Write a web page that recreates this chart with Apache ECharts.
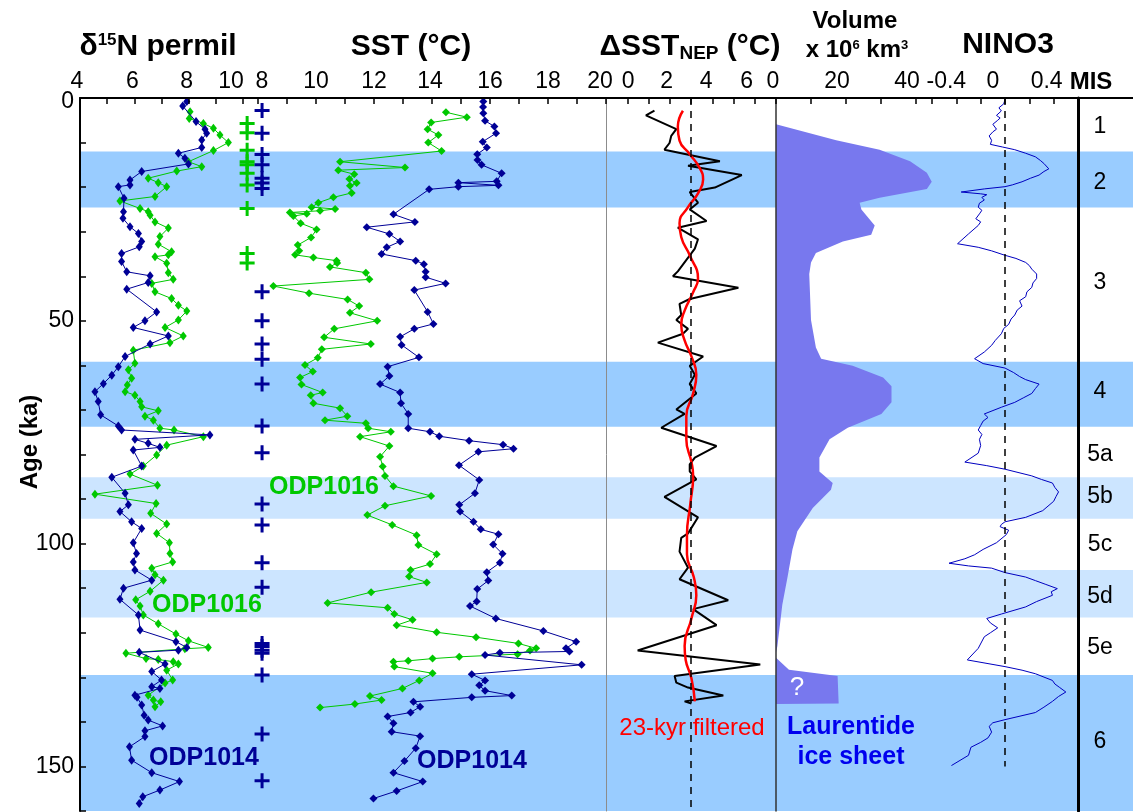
<!DOCTYPE html>
<html><head><meta charset="utf-8">
<script src="https://cdn.jsdelivr.net/npm/echarts@6/dist/echarts.min.js"></script>
<style>html,body{margin:0;padding:0;background:#fff;}#c{width:1133px;height:812px;}</style>
</head><body><div id="c"></div>
<script>
// ---------- DATA: [age (ka), value] ----------
const n15_1014 = [[0.8,7.93],[1.8,7.78],[5.3,8.27],[7.0,8.6],[7.9,8.66],[9.4,8.48],[11.1,8.48],[12.4,7.62],[13.5,7.86],[14.8,7.99],[16.5,6.27],[18.4,5.84],[19.5,5.84],[19.9,5.41],[22.5,5.62],[25.5,5.6],[27.0,5.58],[28.9,5.84],[30.4,6.15],[32.2,6.27],[33.4,6.18],[34.9,5.53],[36.7,5.53],[39.0,5.72],[39.9,6.58],[41.4,6.51],[42.9,5.72],[48.0,6.82],[50.0,6.39],[51.5,5.96],[53.4,7.25],[55.2,6.58],[58.0,5.66],[60.3,5.41],[62.2,5.17],[64.1,4.86],[65.9,4.55],[68.1,4.67],[71.1,4.76],[73.6,5.41],[74.5,5.53],[75.6,8.78],[76.6,6.02],[77.5,6.51],[78.4,6.94],[79.0,5.96],[82.6,6.27],[85.1,5.17],[88.7,5.66],[91.3,5.78],[92.8,5.47],[95.1,5.9],[96.6,6.27],[99.8,5.96],[102.2,6.08],[104.1,5.96],[105.9,6.02],[108.2,6.64],[110.0,5.6],[112.5,5.47],[116.0,6.15],[119.4,6.21],[122.0,7.53],[123.3,7.93],[123.9,7.62],[124.4,6.18],[127.0,7.13],[128.7,6.64],[130.6,7.0],[132.1,6.64],[132.5,6.94],[134.0,6.02],[134.5,6.1],[136.2,6.27],[138.5,6.36],[139.6,6.51],[140.9,7.04],[142.0,6.39],[143.3,6.39],[145.6,5.82],[148.6,5.9],[151.4,6.64],[153.4,7.66],[155.3,6.94],[156.8,6.31],[158.3,6.18]];
const n15_1016 = [[3.1,8.05],[4.6,8.02],[5.7,8.54],[6.8,8.91],[8.3,9.15],[10.0,9.46],[11.8,8.91],[14.3,7.99],[15.4,8.48],[16.4,7.56],[18.0,6.51],[19.0,6.88],[19.9,7.19],[22.1,6.76],[23.1,5.47],[24.8,6.21],[25.5,6.51],[26.3,6.58],[27.8,6.76],[29.2,7.25],[31.1,6.94],[32.8,6.88],[34.5,7.37],[35.2,7.25],[35.6,6.76],[37.1,7.19],[39.2,7.25],[40.7,7.43],[41.6,6.64],[43.5,6.76],[45.0,7.37],[46.5,7.62],[47.8,7.93],[49.8,7.62],[51.5,7.13],[53.4,7.8],[54.9,7.31],[56.6,5.96],[59.5,6.02],[61.0,5.78],[62.9,5.9],[64.4,5.74],[65.9,5.66],[66.7,6.02],[68.1,6.21],[69.3,6.27],[70.2,6.88],[71.4,6.39],[72.3,6.7],[74.1,6.94],[74.5,7.46],[76.0,8.54],[77.9,7.19],[80.1,6.82],[82.6,6.33],[84.4,5.84],[86.9,6.85],[88.9,4.55],[91.0,6.8],[93.2,6.6],[95.6,7.19],[97.7,6.82],[99.8,7.29],[102.2,7.31],[104.1,7.41],[105.5,6.64],[107.0,6.76],[108.2,7.07],[110.7,6.58],[112.6,6.05],[114.0,6.21],[116.0,6.33],[118.0,6.88],[120.3,7.53],[121.8,7.99],[123.3,8.72],[123.6,7.86],[124.6,5.69],[125.8,6.43],[126.0,6.88],[126.5,7.43],[127.0,7.62],[128.4,7.19],[130.6,7.41],[131.3,7.13],[134.0,6.51],[135.1,6.7],[135.5,6.97],[136.6,6.76]];
const sst_1014 = [[0.8,15.77],[2.0,15.76],[3.4,15.77],[5.1,15.83],[6.4,16.15],[7.9,16.21],[9.8,15.75],[11.1,15.89],[12.6,15.56],[13.9,15.57],[15.0,15.71],[16.9,16.4],[18.7,16.23],[19.0,14.91],[19.6,16.29],[19.9,14.91],[20.5,13.9],[26.1,12.67],[27.8,13.41],[29.0,11.75],[30.5,12.53],[32.2,12.9],[33.5,12.44],[35.0,12.26],[36.5,13.44],[37.3,13.72],[39.0,13.78],[40.2,13.78],[41.6,14.47],[43.1,13.39],[48.0,13.85],[50.7,14.05],[51.8,13.39],[53.6,12.9],[55.4,12.95],[58.2,13.55],[60.3,12.47],[62.4,12.53],[64.2,12.21],[66.1,12.9],[68.5,12.93],[70.9,13.18],[74.1,13.18],[74.9,13.93],[75.9,14.25],[76.9,15.28],[77.8,16.45],[78.7,16.81],[79.4,15.6],[82.4,14.93],[85.7,15.63],[88.7,15.48],[91.3,14.94],[92.8,14.97],[95.1,15.43],[96.8,15.68],[97.9,16.29],[100.2,16.11],[102.3,16.43],[104.3,16.34],[106.4,15.89],[108.3,15.94],[110.2,15.56],[113.0,15.54],[114.0,15.31],[116.8,16.2],[119.6,17.84],[122.0,18.97],[123.5,18.62],[124.2,18.74],[124.5,16.34],[125.0,15.83],[127.2,19.16],[129.3,15.37],[130.7,15.83],[131.8,15.63],[133.0,15.83],[134.1,16.75],[134.5,15.37],[135.5,13.36],[136.6,13.59],[137.9,13.26],[138.8,12.47],[140.3,12.67],[142.2,12.61],[143.2,13.59],[145.9,13.44],[148.8,13.05],[151.4,12.67],[153.4,13.68],[155.5,12.78],[157.2,11.98]];
const sst_1016 = [[3.2,14.48],[4.3,15.2],[5.5,13.97],[7.0,13.85],[8.3,14.22],[10.0,13.87],[11.9,14.33],[14.3,10.83],[15.6,13.07],[16.2,10.77],[17.1,11.32],[18.2,11.15],[19.1,11.4],[19.7,11.17],[21.3,11.23],[22.3,10.6],[23.5,10.08],[24.5,9.85],[24.9,10.66],[25.3,10.14],[25.7,9.1],[26.0,9.68],[26.5,9.22],[28.1,9.47],[29.5,10.02],[31.3,9.83],[33.0,9.37],[34.3,9.42],[35.2,9.28],[35.8,9.91],[36.5,10.71],[37.0,10.73],[37.9,10.48],[39.2,11.72],[40.7,11.84],[42.2,8.53],[43.8,9.76],[45.2,11.09],[46.7,11.49],[48.2,11.17],[50.0,12.11],[51.8,10.63],[53.7,10.28],[55.2,11.89],[56.4,10.2],[58.3,10.06],[59.9,9.62],[61.4,9.89],[62.7,9.45],[64.3,9.5],[66.1,10.23],[66.7,9.82],[68.5,9.91],[69.6,10.83],[71.4,11.08],[72.3,10.31],[73.0,11.72],[74.1,11.8],[74.9,12.58],[76.0,11.52],[78.1,12.53],[80.5,12.21],[82.7,12.3],[84.8,12.38],[87.1,12.67],[89.3,13.97],[91.5,12.38],[93.6,11.77],[95.8,12.63],[98.1,13.47],[100.3,13.53],[102.4,14.16],[104.6,13.93],[105.9,13.26],[107.4,13.21],[108.7,13.82],[110.9,11.9],[113.3,10.4],[114.4,12.47],[115.8,12.7],[117.1,13.33],[118.3,12.78],[119.9,14.16],[121.0,15.52],[122.4,16.98],[123.5,17.59],[124.0,17.38],[124.8,16.95],[125.4,14.94],[125.8,14.02],[126.3,13.18],[126.5,12.67],[127.6,12.7],[129.1,14.02],[130.7,13.56],[132.5,12.98],[134.2,11.86],[135.1,12.26],[136.0,11.34],[136.8,10.14]];
const ctrlAges1016 = [5.7,7.8,11.7,14.3,15.0,16.9,19.5,24.8,34.9,37.0];
const ctrlAges1014 = [2.8,7.9,12.7,15.0,18.0,19.1,20.3,43.5,50.0,55.2,58.6,64.2,73.6,79.6,91.1,95.8,104.3,109.8,122.4,123.1,123.9,124.6,129.5,142.7,153.2];
const dsst = [[2.85,1.28],[3.9,0.88],[7.0,2.31],[8.5,2.07],[10.1,1.99],[11.6,1.75],[14.2,4.36],[15.2,2.86],[17.3,5.39],[20.1,4.12],[21.1,2.94],[23.5,3.33],[25.0,2.94],[27.6,3.73],[29.1,2.38],[31.7,3.33],[33.8,3.18],[38.9,2.38],[40.0,2.15],[42.6,5.23],[45.1,2.94],[46.2,2.46],[48.7,2.54],[49.8,2.31],[51.8,2.86],[52.9,2.62],[54.9,1.44],[58.0,3.57],[60.1,2.94],[62.1,3.18],[64.2,2.94],[66.3,3.25],[69.9,2.31],[70.9,2.7],[74.0,1.6],[78.1,4.2],[80.7,3.18],[82.2,2.94],[83.8,2.94],[85.6,3.25],[89.5,1.75],[94.1,3.33],[97.7,2.86],[98.7,2.54],[101.8,2.46],[105.4,2.86],[108.0,2.46],[112.7,4.75],[114.7,3.1],[118.3,4.2],[124.0,0.49],[127.1,6.26],[129.7,2.23],[131.2,2.31],[132.3,2.86],[134.1,4.52],[135.4,2.7],[135.9,3.02]];
const dsstFiltered = [[2.85,2.62],[6.45,2.38],[9.55,2.46],[12.6,2.94],[15.7,3.41],[18.3,3.57],[21.4,3.33],[24.5,2.86],[28.1,2.46],[31.2,2.54],[35.3,2.94],[40.5,3.33],[43.6,3.1],[47.7,2.7],[50.8,2.54],[54.4,2.7],[58.0,3.02],[62.1,3.25],[66.3,3.1],[71.4,2.78],[76.6,2.78],[81.7,3.02],[84.8,3.1],[91.0,2.97],[98.2,2.81],[102.4,2.81],[107.5,3.13],[111.6,3.25],[116.8,3.02],[123.0,2.7],[126.1,2.75],[130.2,3.02],[135.4,3.18]];
const iceVolume = [[5.9,0],[9.5,17.2],[11.6,29.6],[14.2,38.3],[16.8,43.1],[18.8,44.5],[20.4,43.1],[22.4,29.6],[23.5,23.9],[25.0,24.4],[28.6,28.2],[30.7,27.2],[32.2,19.1],[34.8,11.4],[36.9,10.0],[39.5,9.5],[49.8,10.0],[56.0,11.4],[58.5,12.9],[60.1,21.9],[62.7,30.6],[64.7,33.0],[68.3,33.0],[70.9,30.1],[74.0,20.5],[76.6,15.3],[80.7,12.4],[83.8,12.4],[86.4,16.2],[87.9,15.7],[92.0,10.5],[97.2,6.1],[101.3,4.7],[107.5,3.3],[113.7,1.8],[123.0,0.4],[124.5,0]];
const iceVolumeUncertain = [[125.6,0],[128.3,3.7],[129.7,17.6],[135.9,17.9],[136.0,0]];
const nino3 = [[0.3,0],[1.3,-0.01],[2.2,-0.05],[2.9,-0.03],[3.9,-0.07],[4.5,-0.04],[5.0,-0.06],[5.9,-0.1],[7.0,-0.07],[7.6,-0.1],[8.5,-0.13],[9.5,-0.11],[10.4,-0.12],[11.0,-0.02],[11.6,0.08],[12.4,0.17],[13.2,0.25],[14.0,0.29],[14.7,0.32],[15.9,0.36],[16.5,0.32],[17.3,0.28],[18.0,0.21],[18.8,0.14],[19.5,0.06],[19.9,0],[20.4,-0.17],[21.1,-0.36],[21.5,-0.2],[21.7,-0.15],[22.3,-0.19],[22.9,-0.17],[23.6,-0.21],[24.5,-0.22],[25.2,-0.19],[26.0,-0.21],[27.1,-0.24],[27.8,-0.2],[28.6,-0.22],[30.5,-0.3],[32.7,-0.39],[33.5,-0.22],[34.3,-0.11],[35.3,0],[36.0,0.09],[36.9,0.17],[37.6,0.2],[38.4,0.22],[39.5,0.26],[40.5,0.26],[41.5,0.23],[42.5,0.22],[43.5,0.18],[44.6,0.17],[45.5,0.12],[46.7,0.14],[47.6,0.1],[48.7,0.08],[49.6,0.05],[50.8,0.03],[51.7,-0.01],[52.9,-0.03],[54.4,-0.08],[55.5,-0.11],[57.0,-0.17],[58.5,-0.25],[59.6,-0.18],[60.6,0],[61.6,0.07],[62.5,0.12],[63.2,0.17],[64.2,0.28],[65.2,0.25],[66.3,0.22],[67.3,0.15],[68.3,0.08],[69.4,-0.03],[70.9,-0.17],[71.7,-0.14],[72.5,-0.18],[73.5,-0.2],[74.5,-0.22],[75.5,-0.19],[76.6,-0.21],[78.0,-0.2],[79.7,-0.22],[81.7,-0.33],[82.5,-0.15],[83.3,0],[84.8,0.22],[85.6,0.3],[86.4,0.39],[87.4,0.41],[88.4,0.44],[89.4,0.42],[90.5,0.4],[92.6,0.31],[94.1,0.17],[95.1,0],[95.7,-0.03],[96.2,-0.04],[97.0,0.03],[98.0,0.01],[99.8,-0.07],[101.3,-0.18],[102.5,-0.25],[103.4,-0.33],[104.4,-0.46],[105.0,-0.3],[105.5,-0.11],[106.5,0],[107.5,0.17],[108.3,0.25],[109.1,0.33],[110.1,0.43],[110.8,0.38],[111.6,0.39],[113.0,0.26],[114.2,0.17],[115.8,-0.03],[116.8,-0.15],[117.8,-0.12],[118.9,-0.06],[120.0,-0.12],[120.9,-0.17],[123.5,-0.22],[126.1,-0.31],[127.6,0],[128.4,0.14],[129.2,0.25],[130.7,0.39],[131.5,0.41],[132.3,0.45],[133.3,0.5],[134.3,0.44],[135.4,0.39],[136.7,0.32],[137.9,0.25],[139.5,0],[140.2,-0.1],[141.0,-0.13],[142.3,-0.11],[143.6,-0.14],[144.6,-0.2],[145.7,-0.28],[147.5,-0.3],[149.8,-0.44]];
const misLabels = ['1','2','3','4','5a','5b','5c','5d','5e','6'];
const misAges = [6.5,19.1,41.5,66.0,80.1,89.5,100.3,111.8,123.4,144.5];
const bandStart = [12.0,59.2,129.5,85.1,105.9];
const bandEnd = [24.6,73.8,160,94.4,116.6];
const bandKind = [1,1,1,2,2];   // 1 = glacial stage, 2 = substage
const dsstRef = 3, ninoRef = 0, ninoRefEnd = 150;

// ---------- CHART ----------
const FONT = '"Liberation Sans", Arial, sans-serif';
const NAVY = '#000096', GREEN = '#00c800';
const chart = echarts.init(document.getElementById('c'), null, {renderer:'canvas'});
const TOP = 98, H = 713, AGE_MAX = 160;
const flip = arr => arr.map(([a, v]) => [v, a]);
const isInt = v => Math.abs(v - Math.round(v)) < 1e-6;
const lblBase = {fontFamily: FONT, fontSize: 23, color: '#000', margin: 5};

// label nudge tokens (left / right / down) used by axis label formatters
const nudge = {};
for (let n = 1; n <= 14; n++) {
  nudge['L' + n] = {fontFamily: FONT, fontSize: 23, color: '#000', padding: [0, 2 * n, 0, 0]};
  nudge['R' + n] = {fontFamily: FONT, fontSize: 23, color: '#000', padding: [0, 0, 0, 2 * n]};
  nudge['D' + n] = {fontFamily: FONT, fontSize: 23, color: '#000', padding: [2 * n, 0, 0, 0]};
}
const tok = (t, k) => k ? '{' + k + '|' + t + '}' : t;

function topAxis(gi, min, max, interval, labels, extra) {
  // labels: map from rounded tick value (string key) -> nudge token ('' = none)
  return Object.assign({
    gridIndex: gi, type: 'value', position: 'top', min, max, interval, z: 10,
    axisLine: {show: true, lineStyle: {color: '#000', width: 2}},
    axisTick: {show: true, inside: true, length: 6, lineStyle: {color: '#000', width: 1.5}},
    axisLabel: Object.assign({}, lblBase, {
      showMaxLabel: true, rich: nudge,
      formatter: v => {
        const key = String(Math.round(v * 10) / 10);
        return (key in labels) ? tok(key, labels[key]) : '';
      }}),
    splitLine: {show: false}
  }, extra || {});
}
function ageAxis(gi, line) {
  return {
    gridIndex: gi, type: 'value', inverse: true, min: 0, max: AGE_MAX, interval: 10, z: 10,
    axisLine: line ? {show: true, onZero: false, lineStyle: line} : {show: false},
    axisTick: {show: false}, axisLabel: {show: false}, splitLine: {show: false}
  };
}
const yMain = ageAxis(1, {color: '#000', width: 2});
yMain.axisTick = {show: true, inside: true, length: 6, lineStyle: {color: '#000', width: 1.5}};
yMain.axisLabel = Object.assign({}, lblBase, {show: true, margin: 6, rich: nudge,
  formatter: v => {
    const r = Math.round(v);
    if (!isInt(v) || r % 50 !== 0 || v > 155) return '';
    return r === 0 ? tok('0', 'D4') : String(r);
  }});

const grids = [
  {left: 80, width: 1053, top: TOP, height: H},
  {left: 80, width: 178, top: TOP, height: H},
  {left: 258, width: 348, top: TOP, height: H},
  {left: 606, width: 170, top: TOP, height: H},
  {left: 776, width: 156, top: TOP, height: H},
  {left: 932, width: 146, top: TOP, height: H},
  {left: 1078, width: 55, top: TOP, height: H}
];

const xAxes = [
  {gridIndex: 0, type: 'value', min: 0, max: 1, show: false},
  topAxis(1, 4, 10.55, 1, {'4': 'L3', '6': 'L2', '8': 'L2', '10': 'L12'}),
  topAxis(2, 8, 20, 1, {'8': 'R4', '10': '', '12': '', '14': 'L2', '16': '', '18': '', '20': 'L6'}),
  topAxis(3, -1, 7, 1, {'0': 'R1', '2': 'L3', '4': 'L6', '6': 'L8'}),
  topAxis(4, 0, 44.57, 10, {'0': 'L3', '20': 'L9', '40': 'L9'}),
  topAxis(5, -0.6, 0.6, 0.2, {'-0.4': 'L10', '0': 'L12', '0.4': 'L7'}),
  {gridIndex: 6, type: 'value', position: 'top', min: 0, max: 1, z: 10,
   axisLine: {show: true, lineStyle: {color: '#000', width: 2}}, axisTick: {show: false}, axisLabel: {show: false}, splitLine: {show: false}}
];

const yAxes = [
  ageAxis(0, null), yMain, ageAxis(2, null),
  ageAxis(3, {color: '#8c8c8c', width: 1}),
  ageAxis(4, {color: '#333', width: 1.5}),
  ageAxis(5, null),
  ageAxis(6, {color: '#000', width: 3})
];

const plus = 'path://M4,0H6V4H10V6H6V10H4V6H0V4H4Z';
function polyItem(pts) {
  return (params, api) => ({
    type: 'polygon',
    shape: {points: pts.map(([a, v]) => api.coord([v, a]))},
    style: {fill: '#7878ee'}
  });
}

const series = [
  {type: 'custom', xAxisIndex: 0, yAxisIndex: 0, z: 0, silent: true,
   data: bandStart.map((s, i) => [s, bandEnd[i], bandKind[i]]),
   encode: {x: 2, y: [0, 1]},
   renderItem: (p, api) => {
     const s = api.value(0), e = api.value(1), k = api.value(2);
     const p0 = api.coord([0, s]), p1 = api.coord([1, e]);
     return {type: 'rect', shape: {x: p0[0], y: p0[1], width: p1[0] - p0[0], height: p1[1] - p0[1]},
             style: {fill: k === 1 ? '#99ccff' : '#cce5ff'}};
   }},
  {type: 'line', name: 'ODP1014 d15N', xAxisIndex: 1, yAxisIndex: 1, z: 4, data: flip(n15_1014),
   symbol: 'diamond', symbolSize: [7, 9], lineStyle: {width: 1, color: NAVY}, itemStyle: {color: NAVY}},
  {type: 'line', name: 'ODP1016 d15N', xAxisIndex: 1, yAxisIndex: 1, z: 3, data: flip(n15_1016),
   symbol: 'diamond', symbolSize: [7, 9], lineStyle: {width: 1, color: GREEN}, itemStyle: {color: GREEN}},
  {type: 'scatter', name: 'ODP1016 age control', xAxisIndex: 1, yAxisIndex: 1, z: 4,
   data: ctrlAges1016.map(a => [10.15, a]), symbol: plus, symbolSize: 15, itemStyle: {color: GREEN, opacity: 1}},
  {type: 'scatter', name: 'ODP1014 age control', xAxisIndex: 2, yAxisIndex: 2, z: 4,
   data: ctrlAges1014.map(a => [8.14, a]), symbol: plus, symbolSize: 15, itemStyle: {color: NAVY, opacity: 1}},
  {type: 'line', name: 'ODP1014 SST', xAxisIndex: 2, yAxisIndex: 2, z: 4, data: flip(sst_1014),
   symbol: 'diamond', symbolSize: 8, lineStyle: {width: 1, color: NAVY}, itemStyle: {color: NAVY}},
  {type: 'line', name: 'ODP1016 SST', xAxisIndex: 2, yAxisIndex: 2, z: 3, data: flip(sst_1016),
   symbol: 'diamond', symbolSize: 8, lineStyle: {width: 1, color: GREEN}, itemStyle: {color: GREEN}},
  {type: 'line', name: 'dSST', xAxisIndex: 3, yAxisIndex: 3, z: 3, data: flip(dsst), showSymbol: false,
   lineStyle: {width: 2, color: '#000'},
   markLine: {silent: true, symbol: 'none', label: {show: false},
     lineStyle: {type: [7, 6], color: '#000', width: 1.5}, data: [{xAxis: dsstRef}]}},
  {type: 'line', name: 'dSST filtered', xAxisIndex: 3, yAxisIndex: 3, z: 4, data: flip(dsstFiltered),
   showSymbol: false, smooth: true, lineStyle: {width: 2.5, color: '#ff0000'}},
  {type: 'custom', name: 'Laurentide', xAxisIndex: 4, yAxisIndex: 4, z: 1, silent: true,
   data: [[0, 0]], renderItem: (p, api) => ({type: 'group', children: [
     polyItem(iceVolume)(p, api), polyItem(iceVolumeUncertain)(p, api)]})},
  {type: 'line', name: 'NINO3', xAxisIndex: 5, yAxisIndex: 5, z: 3, data: flip(nino3), showSymbol: false,
   lineStyle: {width: 1, color: '#0000c0'},
   markLine: {silent: true, symbol: 'none', label: {show: false},
     lineStyle: {type: [7, 6], color: '#000', width: 1.5},
     data: [[{coord: [ninoRef, 0]}, {coord: [ninoRef, ninoRefEnd]}]]}},
  {type: 'scatter', name: 'MIS', xAxisIndex: 6, yAxisIndex: 6, z: 5, silent: true,
   data: misAges.map(a => [0.4, a]), symbolSize: 1, itemStyle: {color: 'rgba(0,0,0,0)', opacity: 1},
   label: {show: true, position: 'inside', formatter: p => misLabels[p.dataIndex],
     fontFamily: FONT, fontSize: 23, color: '#000', opacity: 1}}
];

function txt(x, y, text, opt) {
  return Object.assign({type: 'text', x, y, z: 20, silent: true,
    style: Object.assign({text, fontFamily: FONT, fontSize: 30, fontWeight: 'bold', fill: '#000',
      align: 'center', verticalAlign: 'middle'}, opt || {})});
}
const B = (s) => ({fontFamily: FONT, fontSize: s, fontWeight: 'bold', fill: '#000'});
const graphic = [
  txt(158, 47, '{b|δ}{u|15}{b|N permil}', {rich: {b: B(30), u: Object.assign(B(17), {verticalAlign: 'top', padding: [0, 0, 12, 0]})}}),
  txt(411, 47, 'SST (°C)'),
  txt(690, 47, '{b|ΔSST}{d|NEP}{b| (°C)}', {rich: {b: B(30), d: Object.assign(B(19), {padding: [14, 0, 0, 0]})}}),
  txt(855, 21, 'Volume', {fontSize: 24}),
  txt(857, 50, '{b|x 10}{u|6}{b| km}{u|3}', {rich: {b: B(24), u: Object.assign(B(13), {padding: [0, 0, 10, 0]})}}),
  txt(1008, 45, 'NINO3'),
  txt(1091, 82, 'MIS', {fontSize: 24}),
  Object.assign(txt(30, 442, 'Age (ka)', {fontSize: 24}), {rotation: Math.PI / 2}),
  txt(324, 487, 'ODP1016', {fontSize: 25, fill: GREEN}),
  txt(207, 605, 'ODP1016', {fontSize: 25, fill: GREEN}),
  txt(472, 761, 'ODP1014', {fontSize: 25, fill: NAVY}),
  txt(204, 758, 'ODP1014', {fontSize: 25, fill: NAVY}),
  txt(692, 728, '23-kyr filtered', {fontSize: 24, fontWeight: 'normal', fill: '#ff0000'}),
  txt(851, 727, 'Laurentide', {fontSize: 25, fill: '#0000ee'}),
  txt(851, 757, 'ice sheet', {fontSize: 25, fill: '#0000ee'}),
  txt(797, 688, '?', {fontSize: 26, fontWeight: 'normal', fill: '#ffffff'})
];

chart.setOption({
  animation: false,
  backgroundColor: '#ffffff',
  grid: grids, xAxis: xAxes, yAxis: yAxes, series, graphic
});
</script></body></html>
